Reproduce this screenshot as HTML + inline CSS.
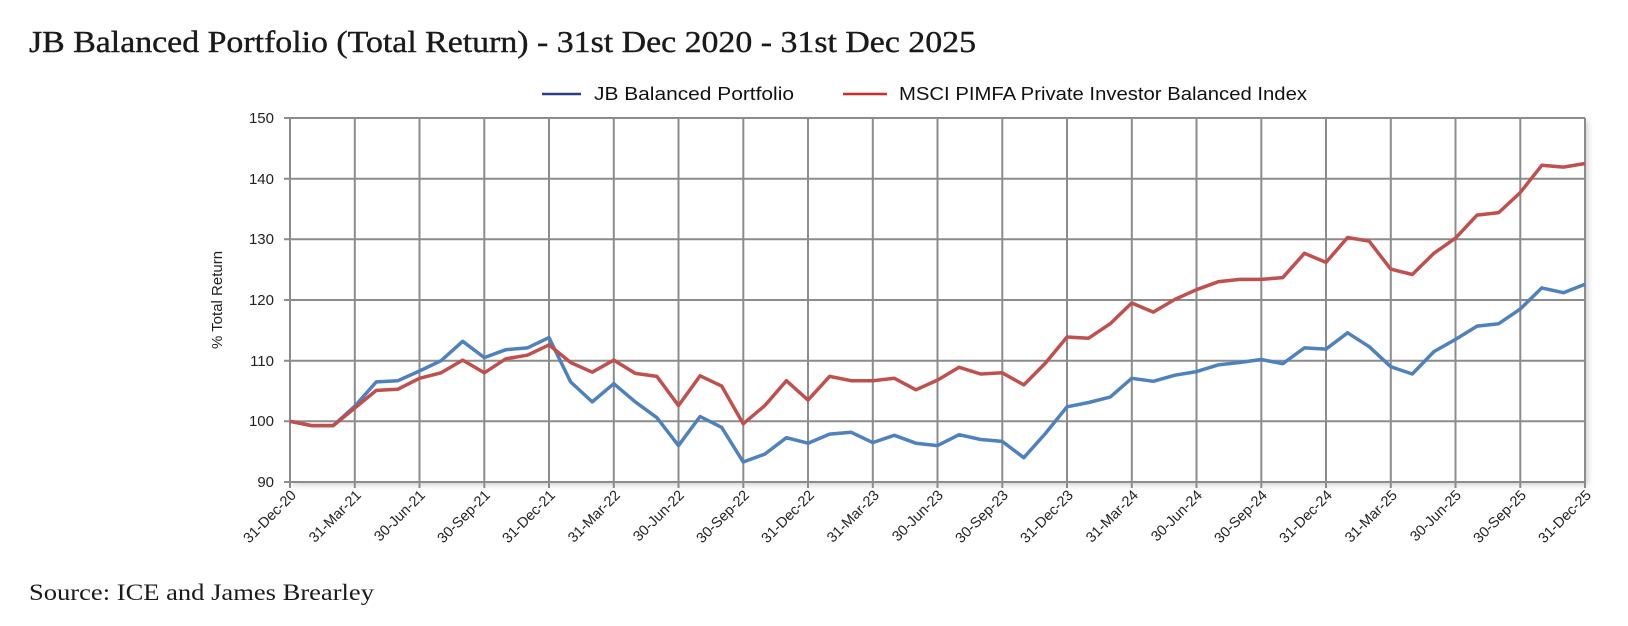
<!DOCTYPE html>
<html><head><meta charset="utf-8"><style>
body{margin:0;background:#fff;width:1628px;height:626px;overflow:hidden}
svg{display:block}
</style></head><body>
<svg width="1628" height="626" xmlns="http://www.w3.org/2000/svg" font-family="Liberation Sans, sans-serif">
<defs><filter id="sh" x="-5%" y="-5%" width="110%" height="115%"><feDropShadow dx="3" dy="3" stdDeviation="3" flood-color="#000" flood-opacity="0.18"/></filter></defs>
<text x="29" y="52" font-family="Liberation Serif, serif" font-size="31" fill="#1a1a1a" stroke="#1a1a1a" stroke-width="0.4" textLength="947" lengthAdjust="spacingAndGlyphs">JB Balanced Portfolio (Total Return) - 31st Dec 2020 - 31st Dec 2025</text>
<line x1="542" y1="94" x2="581" y2="94" stroke="#2e3c8c" stroke-width="2.5"/>
<text x="594" y="100" font-size="18.5" fill="#111" textLength="200" lengthAdjust="spacingAndGlyphs">JB Balanced Portfolio</text>
<line x1="843" y1="94" x2="887" y2="94" stroke="#d42a2a" stroke-width="2.5"/>
<text x="899" y="100" font-size="18.5" fill="#111" textLength="408" lengthAdjust="spacingAndGlyphs">MSCI PIMFA Private Investor Balanced Index</text>
<rect x="290" y="118" width="1295" height="364" fill="#fff" filter="url(#sh)"/>
<g stroke="#8c8c8c" stroke-width="2">
<line x1="284" y1="118" x2="1585" y2="118"/><line x1="284" y1="178.7" x2="1585" y2="178.7"/><line x1="284" y1="239.3" x2="1585" y2="239.3"/><line x1="284" y1="300" x2="1585" y2="300"/><line x1="284" y1="360.7" x2="1585" y2="360.7"/><line x1="284" y1="421.3" x2="1585" y2="421.3"/><line x1="284" y1="482" x2="1585" y2="482"/>
<line x1="290" y1="118" x2="290" y2="488"/><line x1="354.8" y1="118" x2="354.8" y2="488"/><line x1="419.5" y1="118" x2="419.5" y2="488"/><line x1="484.3" y1="118" x2="484.3" y2="488"/><line x1="549" y1="118" x2="549" y2="488"/><line x1="613.8" y1="118" x2="613.8" y2="488"/><line x1="678.5" y1="118" x2="678.5" y2="488"/><line x1="743.3" y1="118" x2="743.3" y2="488"/><line x1="808" y1="118" x2="808" y2="488"/><line x1="872.8" y1="118" x2="872.8" y2="488"/><line x1="937.5" y1="118" x2="937.5" y2="488"/><line x1="1002.3" y1="118" x2="1002.3" y2="488"/><line x1="1067" y1="118" x2="1067" y2="488"/><line x1="1131.8" y1="118" x2="1131.8" y2="488"/><line x1="1196.5" y1="118" x2="1196.5" y2="488"/><line x1="1261.3" y1="118" x2="1261.3" y2="488"/><line x1="1326" y1="118" x2="1326" y2="488"/><line x1="1390.8" y1="118" x2="1390.8" y2="488"/><line x1="1455.5" y1="118" x2="1455.5" y2="488"/><line x1="1520.3" y1="118" x2="1520.3" y2="488"/><line x1="1585" y1="118" x2="1585" y2="488"/>
</g>
<g font-size="15" fill="#222" text-anchor="end">
<text x="274" y="123">150</text><text x="274" y="184">140</text><text x="274" y="244">130</text><text x="274" y="305">120</text><text x="274" y="366">110</text><text x="274" y="426">100</text><text x="274" y="487">90</text>
</g>
<text transform="translate(222,300) rotate(-90)" text-anchor="middle" font-size="15" fill="#222">% Total Return</text>
<g font-size="14.5" fill="#222" text-anchor="end">
<text transform="translate(297,496) rotate(-45)">31-Dec-20</text>
<text transform="translate(362,496) rotate(-45)">31-Mar-21</text>
<text transform="translate(426,496) rotate(-45)">30-Jun-21</text>
<text transform="translate(491,496) rotate(-45)">30-Sep-21</text>
<text transform="translate(556,496) rotate(-45)">31-Dec-21</text>
<text transform="translate(621,496) rotate(-45)">31-Mar-22</text>
<text transform="translate(685,496) rotate(-45)">30-Jun-22</text>
<text transform="translate(750,496) rotate(-45)">30-Sep-22</text>
<text transform="translate(815,496) rotate(-45)">31-Dec-22</text>
<text transform="translate(880,496) rotate(-45)">31-Mar-23</text>
<text transform="translate(944,496) rotate(-45)">30-Jun-23</text>
<text transform="translate(1009,496) rotate(-45)">30-Sep-23</text>
<text transform="translate(1074,496) rotate(-45)">31-Dec-23</text>
<text transform="translate(1139,496) rotate(-45)">31-Mar-24</text>
<text transform="translate(1203,496) rotate(-45)">30-Jun-24</text>
<text transform="translate(1268,496) rotate(-45)">30-Sep-24</text>
<text transform="translate(1333,496) rotate(-45)">31-Dec-24</text>
<text transform="translate(1398,496) rotate(-45)">31-Mar-25</text>
<text transform="translate(1462,496) rotate(-45)">30-Jun-25</text>
<text transform="translate(1527,496) rotate(-45)">30-Sep-25</text>
<text transform="translate(1592,496) rotate(-45)">31-Dec-25</text>
</g>
<polyline fill="none" stroke="#4f81bd" stroke-width="3.5" stroke-linejoin="round" points="290,421.3 311.6,425.6 333.2,425.6 354.8,406.2 376.3,381.9 397.9,380.7 419.5,371 441.1,360.7 462.7,341.3 484.3,357.6 505.8,349.7 527.4,347.9 549,337.6 570.6,381.9 592.2,401.9 613.8,383.7 635.3,401.9 656.9,417.7 678.5,445.6 700.1,416.5 721.7,427.4 743.2,462 764.8,454.1 786.4,437.7 808,443.2 829.6,434.1 851.2,432.3 872.7,442.6 894.3,435.3 915.9,443.2 937.5,445.6 959.1,434.7 980.7,439.5 1002.2,441.4 1023.8,457.7 1045.4,433.5 1067,406.8 1088.6,402.5 1110.2,397.1 1131.7,378.3 1153.3,381.3 1174.9,375.2 1196.5,371.6 1218.1,364.9 1239.7,362.5 1261.2,359.5 1282.8,363.7 1304.4,347.9 1326,349.1 1347.6,332.8 1369.2,346.7 1390.7,366.7 1412.3,374 1433.9,351.6 1455.5,339.4 1477.1,326.1 1498.7,323.7 1520.2,309.1 1541.8,287.9 1563.4,292.7 1585,284.2"/>
<polyline fill="none" stroke="#c0504d" stroke-width="3.5" stroke-linejoin="round" points="290,421.3 311.6,425.6 333.2,425.6 354.8,408 376.3,390.4 397.9,389.2 419.5,378.3 441.1,372.8 462.7,360.1 484.3,372.8 505.8,358.8 527.4,355.2 549,344.9 570.6,362.5 592.2,372.2 613.8,360.1 635.3,373.4 656.9,376.4 678.5,405.6 700.1,375.8 721.7,386.1 743.2,423.8 764.8,405.6 786.4,380.7 808,400.1 829.6,376.4 851.2,380.7 872.7,380.7 894.3,378.3 915.9,389.8 937.5,380.1 959.1,367.3 980.7,374 1002.2,372.8 1023.8,384.9 1045.4,363.1 1067,337 1088.6,338.2 1110.2,323.7 1131.7,303 1153.3,312.1 1174.9,299.4 1196.5,289.7 1218.1,281.8 1239.7,279.4 1261.2,279.4 1282.8,277.6 1304.4,253.3 1326,262.4 1347.6,237.5 1369.2,241.2 1390.7,269.1 1412.3,274.5 1433.9,253.3 1455.5,238.1 1477.1,215.1 1498.7,212.6 1520.2,192.6 1541.8,165.3 1563.4,167.1 1585,163.5"/>
<text x="29" y="600" font-family="Liberation Serif, serif" font-size="23" fill="#1a1a1a" textLength="345" lengthAdjust="spacingAndGlyphs">Source: ICE and James Brearley</text>
</svg>
</body></html>
